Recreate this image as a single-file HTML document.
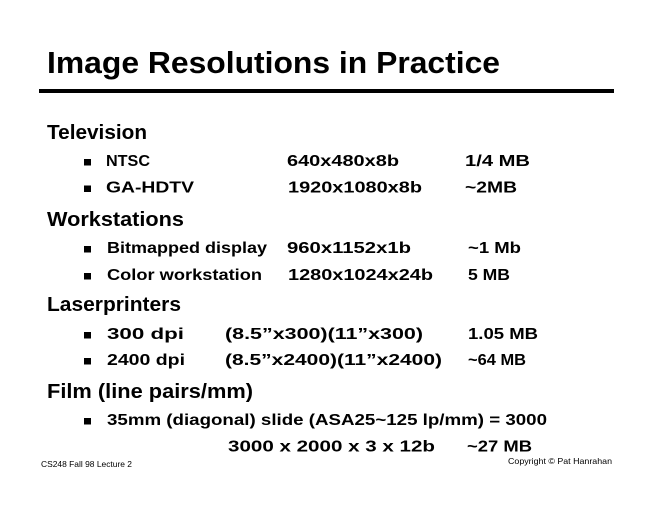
<!DOCTYPE html>
<html>
<head>
<meta charset="utf-8">
<style>
  html, body { margin: 0; padding: 0; background: #fff; }
  body { width: 660px; height: 510px; overflow: hidden; }
  svg { display: block; }
  text { font-family: "Liberation Sans", "DejaVu Sans", sans-serif; fill: #000; }
  .t { font-size: 31px; font-weight: bold; }
  .h { font-size: 20px; font-weight: bold; }
  .b { font-size: 16px; font-weight: bold; }
  .f { font-size: 8.5px; font-weight: normal; }
</style>
</head>
<body>
<svg width="660" height="510" viewBox="0 0 660 510" xmlns="http://www.w3.org/2000/svg">
  <rect x="0" y="0" width="660" height="510" fill="#fff"/>

  <!-- Title -->
  <text class="t" x="47" y="73" textLength="453" lengthAdjust="spacingAndGlyphs">Image Resolutions in Practice</text>
  <rect x="39" y="89" width="575" height="4" fill="#000"/>

  <!-- Television -->
  <text class="h" x="47" y="139" textLength="100" lengthAdjust="spacingAndGlyphs">Television</text>

  <rect x="84" y="159" width="7" height="6.5" fill="#000"/>
  <text class="b" x="106" y="166" textLength="44" lengthAdjust="spacingAndGlyphs">NTSC</text>
  <text class="b" x="287" y="166" textLength="112" lengthAdjust="spacingAndGlyphs">640x480x8b</text>
  <text class="b" x="465" y="166" textLength="65" lengthAdjust="spacingAndGlyphs">1/4 MB</text>

  <rect x="84" y="185.5" width="7" height="6.5" fill="#000"/>
  <text class="b" x="106" y="192.5" textLength="88" lengthAdjust="spacingAndGlyphs">GA-HDTV</text>
  <text class="b" x="288" y="192.5" textLength="134" lengthAdjust="spacingAndGlyphs">1920x1080x8b</text>
  <text class="b" x="465" y="192.5" textLength="52" lengthAdjust="spacingAndGlyphs">~2MB</text>

  <!-- Workstations -->
  <text class="h" x="47" y="226" textLength="137" lengthAdjust="spacingAndGlyphs">Workstations</text>

  <rect x="84" y="246" width="7" height="6.5" fill="#000"/>
  <text class="b" x="107" y="253" textLength="160" lengthAdjust="spacingAndGlyphs">Bitmapped display</text>
  <text class="b" x="287" y="253" textLength="124" lengthAdjust="spacingAndGlyphs">960x1152x1b</text>
  <text class="b" x="468" y="253" textLength="53" lengthAdjust="spacingAndGlyphs">~1 Mb</text>

  <rect x="84" y="273" width="7" height="6.5" fill="#000"/>
  <text class="b" x="107" y="280" textLength="155" lengthAdjust="spacingAndGlyphs">Color workstation</text>
  <text class="b" x="288" y="280" textLength="145" lengthAdjust="spacingAndGlyphs">1280x1024x24b</text>
  <text class="b" x="468" y="280" textLength="42" lengthAdjust="spacingAndGlyphs">5 MB</text>

  <!-- Laserprinters -->
  <text class="h" x="47" y="311" textLength="134" lengthAdjust="spacingAndGlyphs">Laserprinters</text>

  <rect x="84" y="332" width="7" height="6.5" fill="#000"/>
  <text class="b" x="107" y="339" textLength="77" lengthAdjust="spacingAndGlyphs">300 dpi</text>
  <text class="b" x="225" y="339" textLength="198" lengthAdjust="spacingAndGlyphs">(8.5”x300)(11”x300)</text>
  <text class="b" x="468" y="339" textLength="70" lengthAdjust="spacingAndGlyphs">1.05 MB</text>

  <rect x="84" y="358" width="7" height="6.5" fill="#000"/>
  <text class="b" x="107" y="365" textLength="78" lengthAdjust="spacingAndGlyphs">2400 dpi</text>
  <text class="b" x="225" y="365" textLength="217" lengthAdjust="spacingAndGlyphs">(8.5”x2400)(11”x2400)</text>
  <text class="b" x="468" y="365" textLength="58" lengthAdjust="spacingAndGlyphs">~64 MB</text>

  <!-- Film -->
  <text class="h" x="47" y="398" textLength="206" lengthAdjust="spacingAndGlyphs">Film (line pairs/mm)</text>

  <rect x="84" y="418" width="7" height="6.5" fill="#000"/>
  <text class="b" x="107" y="425" textLength="440" lengthAdjust="spacingAndGlyphs">35mm (diagonal) slide (ASA25~125 lp/mm) = 3000</text>

  <text class="b" x="228" y="451.5" textLength="207" lengthAdjust="spacingAndGlyphs">3000 x 2000 x 3 x 12b</text>
  <text class="b" x="467" y="451.5" textLength="65" lengthAdjust="spacingAndGlyphs">~27 MB</text>

  <!-- Footer -->
  <text class="f" x="41" y="467" textLength="91" lengthAdjust="spacingAndGlyphs">CS248 Fall 98 Lecture 2</text>
  <text class="f" x="508" y="464" textLength="104" lengthAdjust="spacingAndGlyphs">Copyright © Pat Hanrahan</text>
</svg>
</body>
</html>
